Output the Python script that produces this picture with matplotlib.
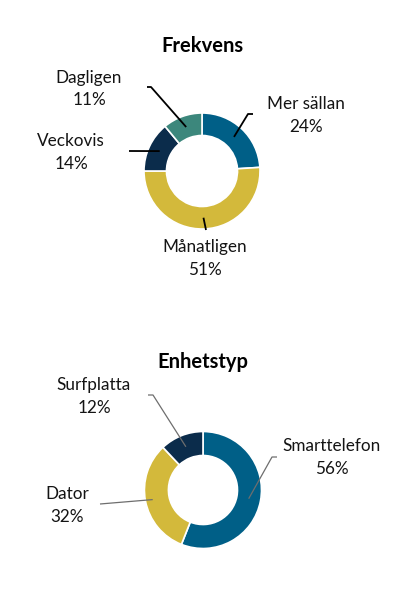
import numpy as np
import matplotlib
matplotlib.use("Agg")
import matplotlib.pyplot as plt

# ---- data ----
freq_labels = ["Mer sällan", "Månatligen", "Veckovis", "Dagligen"]
freq_values = [24, 51, 14, 11]
device_labels = ["Smarttelefon", "Dator", "Surfplatta"]
device_values = [56, 32, 12]

# ---- style / layout ----
BLUE = "#005F87"
YELLOW = "#D3B93B"
NAVY = "#0B2C4B"
TEAL = "#3C877C"
freq_colors = [BLUE, YELLOW, NAVY, TEAL]
device_colors = [BLUE, YELLOW, NAVY]
device_explode = [0, 0.08, 0]

W, H = 399, 607
plt.rcParams['font.family'] = ['Lato', 'DejaVu Sans']

fig = plt.figure(figsize=(W / 100, H / 100), dpi=100)
ax = fig.add_axes([0, 0, 1, 1])
ax.set_xlim(0, W)
ax.set_ylim(0, H)
ax.axis('off')


def py(y):  # pixel-from-top to data y
    return H - y


def donut(values, colors, center, radius, width, explode, title, title_y,
          labels, label_pos, elbows, line_color, line_w):
    cx, cy = center
    wedges, _ = ax.pie(values, colors=colors, startangle=90, counterclock=False,
                       radius=radius, center=(cx, py(cy)), explode=explode,
                       wedgeprops=dict(width=width, edgecolor='white', linewidth=1.2),
                       frame=True)
    ax.text(cx, py(title_y), title, ha='center', va='center',
            fontsize=14.5, fontweight='bold', color='black')
    total = sum(values)
    cum = 0
    for i, (v, lab) in enumerate(zip(values, labels)):
        mid = (cum + v / 2) / total
        cum += v
        ang = np.deg2rad(90 - 360 * mid)
        r_mid = radius - width / 2 + explode[i] * radius
        ax_x = cx + r_mid * np.cos(ang)
        ax_y = py(cy) + r_mid * np.sin(ang)
        pts = [(ax_x, ax_y)] + [(ex, py(ey)) for ex, ey in elbows[i]]
        xs, ys = zip(*pts)
        ax.plot(xs, ys, color=line_color, lw=line_w, solid_capstyle='butt')
        tx, ty = label_pos[i]
        ax.text(tx, py(ty), f"{lab}\n{round(100 * v / total)}%", ha='center',
                va='center', fontsize=12.3, color='#141414', linespacing=1.5)


donut(freq_values, freq_colors, center=(202, 171), radius=58, width=22.5,
      explode=[0, 0, 0, 0], title="Frekvens", title_y=46,
      labels=freq_labels,
      label_pos=[(306, 115.5), (205, 258.5), (71, 152.5), (89, 89)],
      elbows=[[(248, 114), (253, 114)], [(206, 230)], [(129, 151)],
              [(151, 87), (147, 87)]],
      line_color='black', line_w=1.3)

donut(device_values, device_colors, center=(203, 490), radius=58.5, width=24,
      explode=device_explode, title="Enhetstyp", title_y=362,
      labels=device_labels,
      label_pos=[(332, 457.5), (67, 505.5), (94, 396.5)],
      elbows=[[(272, 457), (277, 457)], [(100, 504)],
              [(153, 395), (148, 395)]],
      line_color='#6e6e6e', line_w=0.9)

ax.set_xlim(0, W)
ax.set_ylim(0, H)
ax.set_aspect('equal')
ax.axis('off')
fig.savefig("out.png", dpi=100, facecolor='white')
